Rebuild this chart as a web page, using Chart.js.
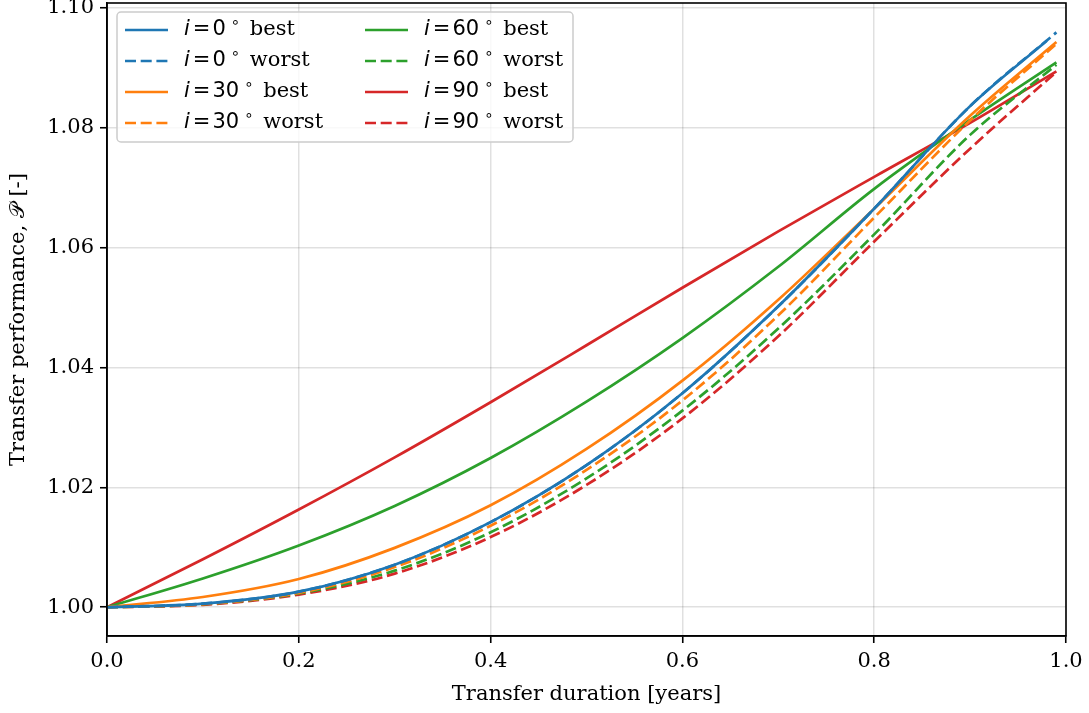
<!DOCTYPE html>
<html>
<head>
<meta charset="utf-8">
<script src="https://cdn.jsdelivr.net/npm/chart.js@4"></script>
<style>
  html, body { margin: 0; padding: 0; background: #fff; }
  canvas { display: block; }
</style>
</head>
<body>
<canvas id="chart" width="1089" height="713"></canvas>
<script>
// Stützstellen (Transfer-Dauer in Jahren)
const xs = [0, 0.1, 0.2, 0.3, 0.4, 0.5, 0.6, 0.7, 0.8, 0.9, 0.99];
const xsShort = [0, 0.1, 0.2, 0.3, 0.4, 0.5, 0.6, 0.7, 0.8, 0.9, 0.98];

// Werte
const i0Best   = [1.0000, 1.0006, 1.0026, 1.0071, 1.0142, 1.0237, 1.0357, 1.0502, 1.0665, 1.0836, 1.0945];
const i0Worst  = [1.0000, 1.0006, 1.0026, 1.0071, 1.0142, 1.0237, 1.0357, 1.0502, 1.0665, 1.0836, 1.0959];
const i30Best  = [1.0000, 1.0017, 1.0047, 1.0099, 1.0170, 1.0264, 1.0378, 1.0513, 1.0665, 1.0820, 1.0943];
const i30Worst = [1.0000, 1.0005, 1.0024, 1.0067, 1.0136, 1.0229, 1.0345, 1.0487, 1.0650, 1.0812, 1.0940];
const i60Best  = [1.0000, 1.0048, 1.0103, 1.0169, 1.0249, 1.0343, 1.0449, 1.0568, 1.0698, 1.0813, 1.0909];
const i60Worst = [1.0000, 1.0005, 1.0023, 1.0061, 1.0125, 1.0215, 1.0328, 1.0465, 1.0622, 1.0788, 1.0905];
const i90Best  = [1.0000, 1.0080, 1.0163, 1.0250, 1.0342, 1.0437, 1.0533, 1.0627, 1.0718, 1.0808, 1.0894];
const i90Worst = [1.0000, 1.0004, 1.0021, 1.0056, 1.0117, 1.0204, 1.0315, 1.0452, 1.0610, 1.0765, 1.0893];

const xTicks = [0, 0.2, 0.4, 0.6, 0.8, 1.0];
const yTicks = [1.00, 1.02, 1.04, 1.06, 1.08, 1.10];

const BLUE = "#1f77b4", ORANGE = "#ff7f0e", GREEN = "#2ca02c", RED = "#d62728";
const DASH = [11, 4.7];
const SERIF = "'DejaVu Serif', serif";
const SANS = "'DejaVu Sans', sans-serif";
const FS = 21;

function pts(xv, yv) {
  return yv.map((y, k) => ({ x: xv[k], y: y }));
}

function series(deg, kind, xv, yv, color) {
  return {
    label: "i = " + deg + "° " + kind,
    deg: deg,
    kind: kind,
    data: pts(xv, yv),
    borderColor: color,
    backgroundColor: color,
    borderWidth: 2.7,
    borderDash: kind === "worst" ? DASH : [],
    pointRadius: 0,
    cubicInterpolationMode: "monotone",
    fill: false
  };
}

const datasets = [
  series("0", "best", xsShort, i0Best, BLUE),
  series("0", "worst", xs, i0Worst, BLUE),
  series("30", "best", xs, i30Best, ORANGE),
  series("30", "worst", xs, i30Worst, ORANGE),
  series("60", "best", xs, i60Best, GREEN),
  series("60", "worst", xs, i60Worst, GREEN),
  series("90", "best", xs, i90Best, RED),
  series("90", "worst", xs, i90Worst, RED)
];

// Rahmen oben/rechts wie bei matplotlib
const framePlugin = {
  id: "frame",
  afterDatasetsDraw(chart) {
    const { ctx, chartArea: a } = chart;
    ctx.save();
    ctx.strokeStyle = "#000";
    ctx.lineWidth = 1.6;
    ctx.strokeRect(a.left, a.top, a.right - a.left, a.bottom - a.top);
    ctx.restore();
  }
};

// Legende mit Mathe-Schrift (kursives i, Gradzeichen hochgestellt)
const legendPlugin = {
  id: "mathLegend",
  afterDraw(chart) {
    const ctx = chart.ctx;
    const bx = 117, by = 12, bw = 456, bh = 130;
    ctx.save();
    ctx.beginPath();
    ctx.roundRect(bx, by, bw, bh, 4);
    ctx.fillStyle = "rgba(255,255,255,0.8)";
    ctx.fill();
    ctx.strokeStyle = "#cccccc";
    ctx.lineWidth = 1.5;
    ctx.stroke();

    chart.data.datasets.forEach((ds, k) => {
      const col = Math.floor(k / 4), row = k % 4;
      const lx = 125 + col * 240;
      const ly = 30 + row * 31;
      ctx.beginPath();
      ctx.setLineDash(ds.borderDash);
      ctx.strokeStyle = ds.borderColor;
      ctx.lineWidth = 2.7;
      ctx.moveTo(lx, ly);
      ctx.lineTo(lx + 43, ly);
      ctx.stroke();
      ctx.setLineDash([]);

      ctx.fillStyle = "#000";
      ctx.textBaseline = "middle";
      let tx = lx + 59;
      ctx.font = "italic " + FS + "px " + SANS;
      ctx.fillText("i", tx, ly);
      tx += ctx.measureText("i").width + 3;
      ctx.font = FS + "px " + SANS;
      ctx.fillText("=", tx, ly);
      tx += ctx.measureText("=").width + 2;
      ctx.fillText(ds.deg, tx, ly);
      tx += ctx.measureText(ds.deg).width + 5;
      ctx.font = "15px " + SANS;
      ctx.fillText("∘", tx, ly - 7);
      tx += ctx.measureText("∘").width + 3;
      ctx.font = FS + "px " + SERIF;
      ctx.fillText(" " + ds.kind, tx, ly);
    });
    ctx.restore();
  }
};

const gridStyle = {
  color: "rgba(0,0,0,0.12)",
  lineWidth: 1.5,
  tickColor: "#000",
  tickLength: 7,
  tickWidth: 1.6
};

function noPad(scale) {
  scale.paddingTop = 0;
  scale.paddingBottom = 0;
  scale.paddingLeft = 0;
  scale.paddingRight = 0;
}

new Chart(document.getElementById("chart"), {
  type: "line",
  data: { datasets: datasets },
  options: {
    responsive: false,
    animation: false,
    devicePixelRatio: 1,
    layout: { padding: { top: 3, right: 23, left: 0, bottom: 0 } },
    plugins: {
      legend: { display: false },
      tooltip: { enabled: false }
    },
    scales: {
      x: {
        type: "linear",
        min: 0,
        max: 1,
        grid: gridStyle,
        border: { display: true, color: "#000", width: 1.6 },
        afterBuildTicks(scale) { scale.ticks = xTicks.map(v => ({ value: v })); },
        afterFit(scale) { scale.height = 77; noPad(scale); },
        ticks: {
          color: "#000",
          font: { family: SERIF, size: FS },
          padding: 6,
          maxRotation: 0,
          callback: v => Number(v).toFixed(1)
        },
        title: {
          display: true,
          text: "Transfer duration [years]",
          color: "#000",
          font: { family: SERIF, size: FS },
          padding: { top: 0, bottom: 6 }
        }
      },
      y: {
        type: "linear",
        min: 0.9952,
        max: 1.1008,
        grid: gridStyle,
        border: { display: true, color: "#000", width: 1.6 },
        afterBuildTicks(scale) { scale.ticks = yTicks.map(v => ({ value: v })); },
        afterFit(scale) { scale.width = 107; noPad(scale); },
        ticks: {
          color: "#000",
          font: { family: SERIF, size: FS },
          padding: 6,
          callback: v => Number(v).toFixed(2)
        },
        title: {
          display: true,
          text: "Transfer performance, 𝒫 [-]",
          color: "#000",
          font: { family: SERIF, size: FS },
          padding: { top: 6, bottom: 0 }
        }
      }
    }
  },
  plugins: [framePlugin, legendPlugin]
});
</script>
</body>
</html>
